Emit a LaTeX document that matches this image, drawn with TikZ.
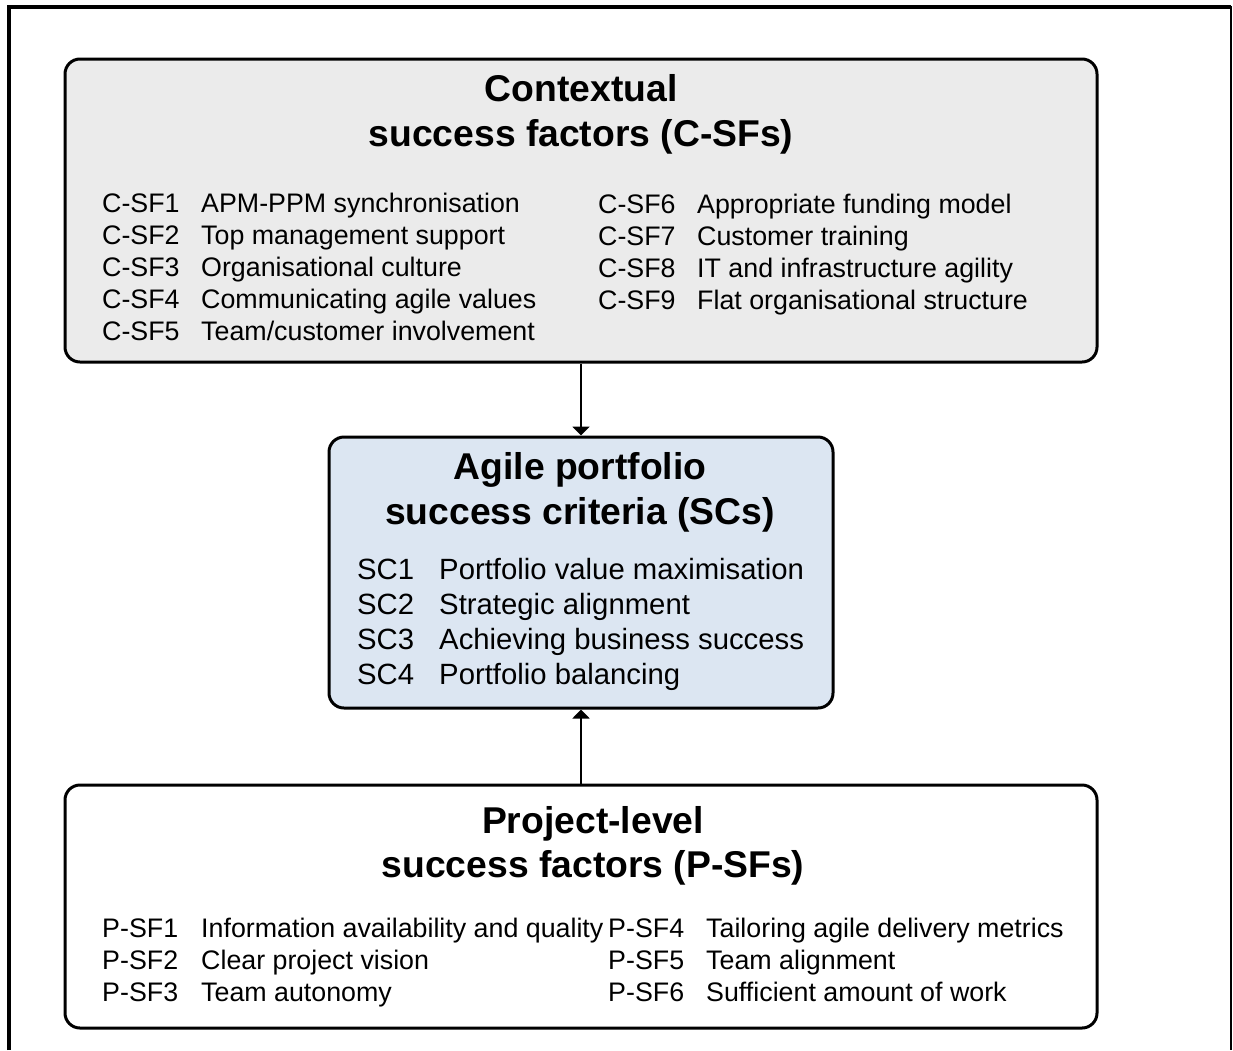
\documentclass[tikz,border=0pt]{standalone}
\usepackage{fontspec}
\setmainfont{Liberation Sans}
\usetikzlibrary{arrows.meta}
\definecolor{boxgray}{HTML}{EBEBEB}
\definecolor{boxblue}{HTML}{DCE6F2}
\begin{document}
\begin{tikzpicture}[x=1pt,y=-1pt,
  panel/.style={draw=black,line width=3pt,rounded corners=15pt,inner sep=0pt},
  ttl/.style={anchor=base,font=\fontsize{37.3}{44}\selectfont\bfseries,inner sep=0pt},
  itm/.style={anchor=base west,font=\fontsize{26.8}{32}\selectfont,inner sep=0pt},
  sci/.style={anchor=base west,font=\fontsize{29.3}{35}\selectfont,inner sep=0pt},
  link/.style={line width=2pt,-{Triangle[width=17pt,length=9pt]}}]
\useasboundingbox (0,0) rectangle (1233,1050);
% outer frame
\draw[line width=4pt] (9,1050) -- (9,7) -- (1231,7);
\draw[line width=2pt] (1231,6) -- (1231,1050);
% boxes
\node[panel,fill=boxgray,minimum width=1032pt,minimum height=303pt] (ctx) at (581,210.5) {};
\node[panel,fill=boxblue,minimum width=504pt,minimum height=271pt] (sc) at (581,572.5) {};
\node[panel,fill=white,minimum width=1032pt,minimum height=243pt] (psf) at (581,906.5) {};
% arrows
\draw[link] (ctx.south) -- (sc.north);
\draw[link] (psf.north) -- (sc.south);
% contextual
\node[ttl] (ctxt1) at (581,101) {Contextual};
\node[ttl] (ctxt2) at (581,146) {success factors (C-SFs)};
\node[itm] (c1l) at (102,212.5) {C-SF1};
\node[itm] (c1d) at (201,212.5) {APM-PPM synchronisation};
\node[itm] (c2l) at (102,244.5) {C-SF2};
\node[itm] (c2d) at (201,244.5) {Top management support};
\node[itm] (c3l) at (102,276.5) {C-SF3};
\node[itm] (c3d) at (201,276.5) {Organisational culture};
\node[itm] (c4l) at (102,308.5) {C-SF4};
\node[itm] (c4d) at (201,308.5) {Communicating agile values};
\node[itm] (c5l) at (102,340.5) {C-SF5};
\node[itm] (c5d) at (201,340.5) {Team/customer involvement};
\node[itm] (c6l) at (598,213) {C-SF6};
\node[itm] (c6d) at (697,213) {Appropriate funding model};
\node[itm] (c7l) at (598,245) {C-SF7};
\node[itm] (c7d) at (697,245) {Customer training};
\node[itm] (c8l) at (598,277) {C-SF8};
\node[itm] (c8d) at (697,277) {IT and infrastructure agility};
\node[itm] (c9l) at (598,309) {C-SF9};
\node[itm] (c9d) at (697,309) {Flat organisational structure};
% success criteria
\node[ttl] (sct1) at (580,479) {Agile portfolio};
\node[ttl] (sct2) at (580,524) {success criteria (SCs)};
\node[sci] (s1l) at (357,579.5) {SC1};
\node[sci] (s1d) at (439,579.5) {Portfolio value maximisation};
\node[sci] (s2l) at (357,614.5) {SC2};
\node[sci] (s2d) at (439,614.5) {Strategic alignment};
\node[sci] (s3l) at (357,649.5) {SC3};
\node[sci] (s3d) at (439,649.5) {Achieving business success};
\node[sci] (s4l) at (357,684.5) {SC4};
\node[sci] (s4d) at (439,684.5) {Portfolio balancing};
% project level
\node[ttl] (pt1) at (593,833) {Project-level};
\node[ttl] (pt2) at (593,877) {success factors (P-SFs)};
\node[itm] (p1l) at (102,937.5) {P-SF1};
\node[itm] (p1d) at (201,937.5) {Information availability and quality};
\node[itm] (p2l) at (102,969.5) {P-SF2};
\node[itm] (p2d) at (201,969.5) {Clear project vision};
\node[itm] (p3l) at (102,1001.5) {P-SF3};
\node[itm] (p3d) at (201,1001.5) {Team autonomy};
\node[itm] (p4l) at (608,937.5) {P-SF4};
\node[itm] (p4d) at (706,937.5) {Tailoring agile delivery metrics};
\node[itm] (p5l) at (608,969.5) {P-SF5};
\node[itm] (p5d) at (706,969.5) {Team alignment};
\node[itm] (p6l) at (608,1001.5) {P-SF6};
\node[itm] (p6d) at (706,1001.5) {Sufficient amount of work};
\end{tikzpicture}
\end{document}
